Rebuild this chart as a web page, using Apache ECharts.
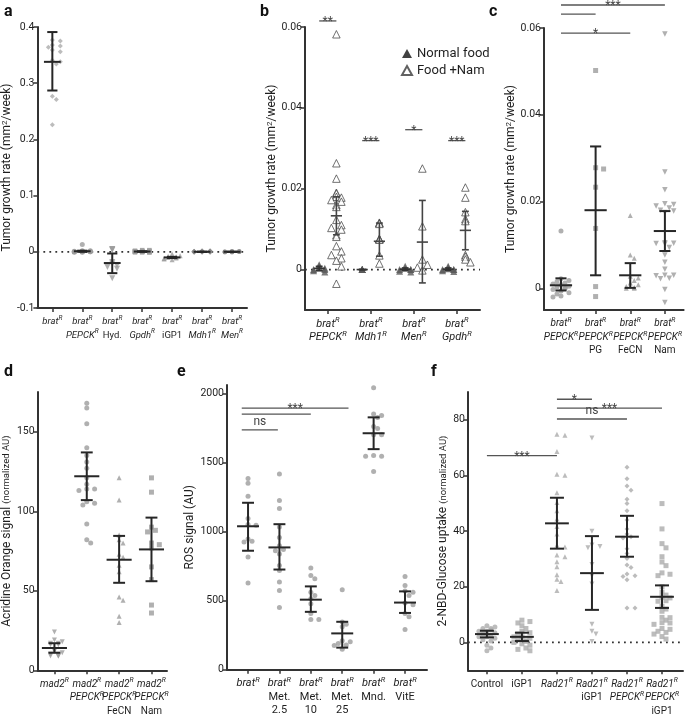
<!DOCTYPE html>
<html><head><meta charset="utf-8">
<script src="https://cdn.jsdelivr.net/npm/echarts@6/dist/echarts.min.js"></script>
<style>html,body{margin:0;padding:0;background:#fff}#c{width:685px;height:716px}</style>
</head><body><div id="c"></div>
<script>
// ---------------- DATA ----------------
// Panel a
const aLabels = ['{i|brat}{s|R}', '{i|brat}{s|R}\n{i|PEPCK}{s|R}', '{i|brat}{s|R}\n{n|Hyd.}', '{i|brat}{s|R}\n{i|Gpdh}{s|R}', '{i|brat}{s|R}\n{n|iGP1}', '{i|brat}{s|R}\n{i|Mdh1}{s|R}', '{i|brat}{s|R}\n{i|Men}{s|R}'];
const aTicks = [-0.1, 0, 0.1, 0.2, 0.3, 0.4];
const aBrat = [0.377, 0.375, 0.368, 0.366, 0.364, 0.359, 0.356, 0.341, 0.338, 0.334, 0.277, 0.271, 0.226];
const aPepck = [0.013, 0.002, 0.002, 0.001, 0.001, 0.001, 0, 0, 0, 0, 0, 0, -0.001, -0.001];
const aHyd = [0.005, 0.005, 0.003, -0.018, -0.021, -0.024, -0.027, -0.030, -0.047];
const aGpdh = [0.003, 0.003, 0.002, 0.002, 0.002, 0.001, 0.001, 0.001, 0.001, 0, 0, 0, 0, 0, -0.001, -0.001, -0.001, -0.001, 0, 0];
const aIgp1 = [-0.004, -0.007, -0.008, -0.009, -0.010, -0.010, -0.011, -0.012, -0.013, -0.014];
const aMdh1 = [0.002, 0.002, 0.001, 0.001, 0.001, 0, 0, 0, 0, 0, 0, -0.001, -0.001, -0.001, 0, 0, 0, 0];
const aMen = [0.001, 0.001, 0, 0, 0, 0, 0, 0, -0.001, -0.001];
const aMean = [0.338, 0.001, -0.020, 0.0005, -0.010, 0, 0];
const aLow = [0.287, 0, -0.038, 0, -0.011, 0, 0];
const aHigh = [0.391, 0.002, -0.003, 0.001, -0.009, 0, 0];

// Panel b
const bLabels = ['{i|brat}{s|R}\n{i|PEPCK}{s|R}', '{i|brat}{s|R}\n{i|Mdh1}{s|R}', '{i|brat}{s|R}\n{i|Men}{s|R}', '{i|brat}{s|R}\n{i|Gpdh}{s|R}'];
const bTicks = [0, 0.02, 0.04, 0.06];
const bNormPepck = [0.0012, 0.0008, 0.0005, 0.0003, 0, 0, -0.0003, -0.0006];
const bNormMdh1 = [0, 0, 0, 0, 0, 0];
const bNormMen = [0.0008, 0.0003, 0, 0, 0, -0.0004, -0.0006];
const bNormGpdh = [0.0008, 0.0005, 0.0002, 0, 0, 0, -0.0003, -0.0005];
const bNamPepck = [0.0582, 0.0263, 0.0225, 0.019, 0.0188, 0.018, 0.0178, 0.0172, 0.0168, 0.016, 0.0155, 0.0123, 0.011, 0.0103, 0.0099, 0.0085, 0.0081, 0.0058, 0.0045, 0.0036, 0.0028, 0.0022, 0.0008, -0.0035];
const bNamMdh1 = [0.0116, 0.0115, 0.0113, 0.0076, 0.0075, 0.0074, 0.0035, 0.0015];
const bNamMen = [0.025, 0.0107, 0.0025, 0.0012, 0.0005, -0.0002];
const bNamGpdh = [0.0203, 0.0178, 0.0142, 0.0125, 0.012, 0.0036, 0.0032, 0.0025, 0.0018];
const bNormMean = [0.0003, 0, 0.0001, 0.0001];
const bNormLow = [-0.0003, 0, -0.0002, -0.0002];
const bNormHigh = [0.0008, 0, 0.0004, 0.0004];
const bNamMean = [0.0133, 0.007, 0.0068, 0.0097];
const bNamLow = [0.0086, 0.0033, -0.0033, 0.0049];
const bNamHigh = [0.018, 0.0115, 0.0171, 0.0144];
const bSig = [[-0.2, 0.2, 0.0615, '**'], [0.8, 1.2, 0.0319, '***'], [1.8, 2.2, 0.0346, '*'], [2.8, 3.2, 0.0319, '***']];

// Panel c
const cLabels = ['{i|brat}{s|R}\n{i|PEPCK}{s|R}', '{i|brat}{s|R}\n{i|PEPCK}{s|R}\n{n|PG}', '{i|brat}{s|R}\n{i|PEPCK}{s|R}\n{n|FeCN}', '{i|brat}{s|R}\n{i|PEPCK}{s|R}\n{n|Nam}'];
const cTicks = [0, 0.02, 0.04, 0.06];
const cPepck = [0.0132, 0.0022, 0.0018, 0.0015, 0.0012, 0.001, 0.0008, 0.0005, 0.0003, 0, 0, -0.0003, -0.0006, -0.001, -0.0013, -0.0018, -0.002];
const cPG = [0.0502, 0.0278, 0.0275, 0.0233, 0.0138, 0.0004, -0.0019];
const cFeCN = [0.0168, 0.0077, 0.0069, 0.0028, 0.0024, 0.0018, 0.0012, 0.0008, 0.0004, 0.0002, 0, 0];
const cNam = [0.0586, 0.0268, 0.0227, 0.0195, 0.0193, 0.019, 0.0185, 0.018, 0.0178, 0.0175, 0.0105, 0.0104, 0.0103, 0.0102, 0.0094, 0.0077, 0.006, 0.0044, 0.003, 0.003, 0.0029, 0.0023, 0.0022, -0.0003, -0.0033];
const cMean = [0.0007, 0.018, 0.003, 0.0132];
const cLow = [-0.0005, 0.003, 0.0001, 0.0086];
const cHigh = [0.0023, 0.0327, 0.0058, 0.0178];
const cSig = [[0, 3, 0.0653, '***'], [0, 1, 0.0632, ''], [0, 2, 0.0588, '*']];

// Panel d
const dLabels = ['{i|mad2}{s|R}', '{i|mad2}{s|R}\n{i|PEPCK}{s|R}', '{i|mad2}{s|R}\n{i|PEPCK}{s|R}\n{n|FeCN}', '{i|mad2}{s|R}\n{i|PEPCK}{s|R}\n{n|Nam}'];
const dTicks = [0, 50, 100, 150];
const dMad2 = [24, 19, 18, 17, 17, 16, 16, 12, 11, 10, 10, 10, 9, 9, 9];
const dPepck = [168, 165, 155, 140, 135, 131, 127, 121, 117, 114, 114, 113, 106, 105, 104, 92, 82, 80];
const dFeCN = [121, 107, 85, 82, 80, 73, 71, 66, 62, 46, 44, 34, 30];
const dNam = [121, 112, 90, 88, 87, 80, 79, 77, 65, 57, 41, 36];
const dMean = [14, 122, 69.5, 76];
const dLow = [11, 107, 55, 56];
const dHigh = [17, 137, 84.5, 96];

// Panel e
const eLabels = ['{i|brat}{s|R}', '{i|brat}{s|R}\n{n|Met.}\n{n|2.5}', '{i|brat}{s|R}\n{n|Met.}\n{n|10}', '{i|brat}{s|R}\n{n|Met.}\n{n|25}', '{i|brat}{s|R}\n{n|Mnd.}', '{i|brat}{s|R}\n{n|VitE}'];
const eTicks = [0, 500, 1000, 1500, 2000];
const eBrat = [1383, 1350, 1256, 1095, 1050, 1045, 945, 930, 925, 815, 627];
const eMet25 = [1416, 1225, 1167, 1033, 957, 897, 870, 861, 837, 754, 718, 634, 574, 450];
const eMet10 = [737, 682, 658, 560, 538, 514, 478, 407, 364, 364];
const eMet250 = [579, 345, 330, 311, 210, 203, 190, 179, 175, 148];
const eMnd = [2040, 1850, 1840, 1825, 1760, 1745, 1700, 1700, 1550, 1545, 1545, 1435];
const eVitE = [675, 610, 569, 560, 538, 483, 470, 407, 383, 292];
const eMean = [1038, 885, 507, 263, 1711, 486];
const eLow = [861, 725, 419, 160, 1596, 411];
const eHigh = [1208, 1053, 603, 347, 1826, 567];
const eSig = [[-0.2, 0.95, 1736, 'ns'], [-0.2, 2.0, 1850, ''], [-0.2, 3.2, 1893, '***']];

// Panel f
const fLabels = ['{n|Control}', '{n|iGP1}', '{i|Rad21}{s|R}', '{i|Rad21}{s|R}\n{n|iGP1}', '{i|Rad21}{s|R}\n{i|PEPCK}{s|R}', '{i|Rad21}{s|R}\n{i|PEPCK}{s|R}\n{n|iGP1}'];
const fTicks = [0, 20, 40, 60, 80];
const fControl = [6, 5.5, 5, 5, 4.5, 4, 4, 3.5, 3, 3, 2.5, 2, 2, 1.5, 1, 0.5, -1, -2, -3];
const fIgp1 = [8, 7.5, 7, 6, 5, 4, 3.5, 3, 2, 2, 1.5, 1, 0.5, 0.5, 0, -0.5, -1, -2, -2.5, -3];
const fRad21 = [74.8, 74.5, 68.6, 60.4, 60.1, 53.8, 50.3, 47.3, 44.4, 41.7, 39, 34.9, 34.3, 31.4, 30.8, 29, 27.2, 24.3, 22.7, 21.9, 18.7];
const fRadIgp1 = [73.5, 40, 35, 34.5, 34, 28, 24, 21, 6.5, 4, 3, 0.3];
const fRadPepck = [63, 58.8, 56.2, 54.7, 51.5, 49.9, 47.3, 44, 40.8, 39, 38, 37.5, 33.7, 32, 30.2, 27.8, 26.9, 24.6, 24, 23.7, 22.5, 12.4, 12.4];
const fRadPepckIgp1 = [49.9, 40.8, 35.5, 34, 30.8, 28.9, 27.6, 25, 24.5, 24, 20, 18, 17, 16.2, 16, 15, 14.8, 13, 12, 11.2, 9, 8.9, 8, 7.1, 7, 6.5, 5, 4.7, 4, 3.6, 3, 2.1, 1.2];
const fMean = [3, 2, 42.8, 24.9, 38, 16.4];
const fLow = [1.8, 0.5, 33.7, 11.7, 30.8, 12.4];
const fHigh = [4.2, 3.5, 52, 38.2, 45.5, 20.5];
const fSig = [[0, 2, 67.1, '***'], [2, 3, 87.4, '*'], [2, 5, 84.2, '***'], [2, 4, 80.3, 'ns']];

// ---------------- RENDERING ----------------
const FONT = "Roboto, 'Liberation Sans', sans-serif";
const TXT = '#1e1e1e';
const GRAY = '#9c9c9c';
const DARK = '#262626';
function makeRich(fs) {
  return {
    i: {fontStyle: 'italic', fontSize: fs, lineHeight: 13.5, fontFamily: FONT, color: TXT},
    s: {fontStyle: 'italic', fontSize: fs * 0.68, lineHeight: 8, verticalAlign: 'top', fontFamily: FONT, color: TXT},
    n: {fontSize: fs, lineHeight: 13.5, fontFamily: FONT, color: TXT}
  };
}

const grids = [], xAxes = [], yAxes = [], series = [];

function swarm(values, center, bandPx, pxPerUnit, stepPx, sizePx, maxOffPx) {
  const placed = [], out = [];
  const order = values.map((v, i) => i).sort((a, b) => values[b] - values[a]);
  const cands = [0];
  for (let j = 1; j * stepPx <= maxOffPx + 0.01; j++) cands.push(j * stepPx, -j * stepPx);
  order.forEach(i => {
    const y = values[i] * pxPerUnit;
    let best = 0, bestCnt = 1e9;
    for (const c of cands) {
      let cnt = 0;
      for (const p of placed) { const dx = c - p[0], dy = y - p[1]; if (dx * dx + dy * dy < sizePx * sizePx) cnt++; }
      if (cnt === 0) { best = c; bestCnt = 0; break; }
      if (cnt < bestCnt) { bestCnt = cnt; best = c; }
    }
    placed.push([best, y]);
    out.push([center + best / bandPx, values[i]]);
  });
  return out;
}

function labelAxis(k, p, idxList, main) {
  const fs = p.labelSize || 11;
  return {
    type: 'value', gridIndex: k, min: p.xMin, max: p.xMax, position: 'bottom',
    axisLine: {show: main, onZero: false, lineStyle: {color: '#333', width: 2}},
    axisTick: {show: main, customValues: p.labels.map((l, i) => i), length: 4, lineStyle: {color: '#333', width: 1.5}},
    axisLabel: {customValues: idxList, formatter: v => p.labels[Math.round(v)], margin: 7,
      showMinLabel: true, showMaxLabel: true, hideOverlap: false,
      rich: makeRich(fs), fontFamily: FONT, fontSize: fs, color: TXT, align: 'center', verticalAlign: 'top'},
    splitLine: {show: false}
  };
}

function addPanel(p) {
  const k = grids.length;
  grids.push({left: p.grid[0], top: p.grid[1], width: p.grid[2], height: p.grid[3], containLabel: false});
  const bandPx = p.grid[2] / (p.xMax - p.xMin);
  const pxPerUnit = p.grid[3] / (p.yMax - p.yMin);
  const xi = xAxes.length;
  const idx = p.labels.map((l, i) => i);
  // even-index labels on the main axis, odd-index labels on a companion axis so no label is dropped
  xAxes.push(labelAxis(k, p, idx.filter(i => i % 2 === 0), true));
  xAxes.push(labelAxis(k, p, idx.filter(i => i % 2 === 1), false));
  yAxes.push({
    type: 'value', gridIndex: k, min: p.yMin, max: p.yMax,
    axisLine: {onZero: false, lineStyle: {color: '#333', width: 2}},
    axisTick: {customValues: p.yTicks, length: 4, lineStyle: {color: '#333', width: 1.5}},
    axisLabel: {customValues: p.yTicks, formatter: v => String(v), margin: 3, showMinLabel: true, showMaxLabel: true,
      fontFamily: FONT, fontSize: 10.5, color: TXT},
    splitLine: {show: false},
    name: p.yName, nameLocation: 'middle', nameGap: p.nameGap, nameRotate: 90,
    nameTextStyle: {fontFamily: FONT, fontSize: p.nameSize || 12, color: TXT, rich: {s: {fontSize: 8, verticalAlign: 'top', lineHeight: 8, fontFamily: FONT, color: TXT}, sm: {fontSize: 9.5, fontFamily: FONT, color: TXT}}}
  });
  const ax = {xAxisIndex: xi, yAxisIndex: k};
  if (p.zero) {
    series.push(Object.assign({
      type: 'custom', silent: true, z: 1, data: [[0, 0]],
      renderItem: (params, api) => {
        const cs = params.coordSys; const y = api.coord([0, 0])[1];
        return {type: 'line', shape: {x1: cs.x, y1: y, x2: cs.x + cs.width, y2: y}, style: {stroke: '#333', lineWidth: 1.8, lineDash: [1.8, 4.2]}};
      }
    }, ax));
  }
  p.groups.forEach(g => {
    series.push(Object.assign({
      type: 'scatter', name: g.name, z: 3, silent: true,
      symbol: g.symbol, symbolSize: g.size, symbolRotate: g.rotate || 0,
      itemStyle: g.style || {color: GRAY},
      data: swarm(g.values, g.x, bandPx, pxPerUnit, g.step || g.size * 0.8, g.size * 0.9, g.maxOff || bandPx * 0.3)
    }, ax));
  });
  p.bars.forEach(b => {
    series.push(Object.assign({
      type: 'custom', z: 5, silent: true,
      encode: {x: 0, y: 1},
      data: b.x.map((x, i) => [x, b.mean[i], b.lo[i], b.hi[i]]),
      renderItem: (params, api) => {
        const x = api.value(0);
        const m = api.coord([x, api.value(1)]), lo = api.coord([x, api.value(2)]), hi = api.coord([x, api.value(3)]);
        const mh = bandPx * b.meanHalf, ch = bandPx * b.capHalf;
        const st = {stroke: b.color || DARK, lineWidth: b.width || 2};
        return {type: 'group', children: [
          {type: 'line', shape: {x1: m[0], y1: lo[1], x2: m[0], y2: hi[1]}, style: st},
          {type: 'line', shape: {x1: m[0] - ch, y1: lo[1], x2: m[0] + ch, y2: lo[1]}, style: st},
          {type: 'line', shape: {x1: m[0] - ch, y1: hi[1], x2: m[0] + ch, y2: hi[1]}, style: st},
          {type: 'line', shape: {x1: m[0] - mh, y1: m[1], x2: m[0] + mh, y2: m[1]}, style: st}
        ]};
      }
    }, ax));
  });
  if (p.sig) {
    series.push(Object.assign({
      type: 'custom', z: 6, silent: true, clip: false,
      encode: {x: 0, y: 2},
      data: p.sig.map(s => [s[0], s[1], s[2]]),
      renderItem: (params, api) => {
        const s = p.sig[params.dataIndex];
        const a = api.coord([api.value(0), api.value(2)]), b = api.coord([api.value(1), api.value(2)]);
        const ch = [{type: 'line', shape: {x1: a[0], y1: a[1], x2: b[0], y2: b[1]}, style: {stroke: '#555', lineWidth: 1.3}}];
        if (s[3]) {
          const star = s[3] !== 'ns';
          ch.push({type: 'text', style: {text: s[3], x: (a[0] + b[0]) / 2, y: star ? a[1] + 1 : a[1] - 1.5, align: 'center', verticalAlign: star ? 'middle' : 'bottom', font: '12px ' + FONT, fill: '#444'}});
        }
        return {type: 'group', children: ch};
      }
    }, ax));
  }
}

const sym = (values, x, symbol, size, extra) => Object.assign({values, x, symbol, size}, extra || {});
const DOWN = {rotate: 180};

// Panel a
addPanel({
  grid: [37, 27, 210, 281], xMin: -0.5, xMax: 6.5, yMin: -0.1, yMax: 0.4, yTicks: aTicks, labels: aLabels, labelSize: 9.5,
  yName: 'Tumor growth rate (mm{s|2}/week)', nameGap: 22, zero: true,
  groups: [
    sym(aBrat, 0, 'diamond', 5, {style: {color: '#ababab'}}),
    sym(aPepck, 1, 'circle', 5),
    sym(aHyd, 2, 'triangle', 6, DOWN),
    sym(aGpdh, 3, 'rect', 4.5),
    sym(aIgp1, 4, 'triangle', 5),
    sym(aMdh1, 5, 'diamond', 5, {style: {color: '#8a8a8a'}}),
    sym(aMen, 6, 'circle', 4.5, {style: {color: '#8a8a8a'}})
  ],
  bars: [{x: [0, 1, 2, 3, 4, 5, 6], mean: aMean, lo: aLow, hi: aHigh, meanHalf: 0.28, capHalf: 0.17}]
});

// Panel b
const NORM = {style: {color: '#5a5a5a'}, maxOff: 6, name: 'Normal food'};
const NAM = {style: {color: '#fff', borderColor: '#3a3a3a', borderWidth: 0.9}, maxOff: 5, step: 5, name: 'Food +Nam'};
addPanel({
  grid: [305, 27, 175, 283], xMin: -0.53, xMax: 3.54, yMin: -0.01, yMax: 0.06, yTicks: bTicks, labels: bLabels, labelSize: 11,
  yName: 'Tumor growth rate (mm{s|2}/week)', nameGap: 27, zero: true,
  groups: [
    sym(bNormPepck, -0.2, 'triangle', 7, NORM), sym(bNormMdh1, 0.8, 'triangle', 7, NORM),
    sym(bNormMen, 1.8, 'triangle', 7, NORM), sym(bNormGpdh, 2.8, 'triangle', 7, NORM),
    sym(bNamPepck, 0.2, 'triangle', 7.5, NAM), sym(bNamMdh1, 1.2, 'triangle', 7.5, NAM),
    sym(bNamMen, 2.2, 'triangle', 7.5, NAM), sym(bNamGpdh, 3.2, 'triangle', 7.5, NAM)
  ],
  bars: [
    {x: [-0.2, 0.8, 1.8, 2.8], mean: bNormMean, lo: bNormLow, hi: bNormHigh, meanHalf: 0.13, capHalf: 0.08, color: '#333', width: 1.6},
    {x: [0.2, 1.2, 2.2, 3.2], mean: bNamMean, lo: bNamLow, hi: bNamHigh, meanHalf: 0.13, capHalf: 0.08, color: '#444', width: 1.6}
  ],
  sig: bSig
});

// Panel c
addPanel({
  grid: [544, 28, 140, 282], xMin: -0.49, xMax: 3.54, yMin: -0.005, yMax: 0.06, yTicks: cTicks, labels: cLabels, labelSize: 10,
  yName: 'Tumor growth rate (mm{s|2}/week)', nameGap: 26,
  groups: [
    sym(cPepck, 0, 'circle', 5), sym(cPG, 1, 'rect', 5),
    sym(cFeCN, 2, 'triangle', 5), sym(cNam, 3, 'triangle', 5.5, DOWN)
  ],
  bars: [{x: [0, 1, 2, 3], mean: cMean, lo: cLow, hi: cHigh, meanHalf: 0.32, capHalf: 0.16}],
  sig: cSig
});

// Panel d
addPanel({
  grid: [35, 392, 132, 281], xMin: -0.52, xMax: 3.48, yMin: 0, yMax: 175, yTicks: dTicks, labels: dLabels, labelSize: 10,
  yName: 'Acridine Orange signal {sm|(normalized AU)}', nameGap: 21,
  groups: [
    sym(dMad2, 0, 'triangle', 5, DOWN), sym(dPepck, 1, 'circle', 5),
    sym(dFeCN, 2, 'triangle', 5), sym(dNam, 3, 'rect', 5)
  ],
  bars: [{x: [0, 1, 2, 3], mean: dMean, lo: dLow, hi: dHigh, meanHalf: 0.38, capHalf: 0.18}]
});

// Panel e
addPanel({
  grid: [227, 385, 200, 288], xMin: -0.67, xMax: 5.7, yMin: 0, yMax: 2060, yTicks: eTicks, labels: eLabels, labelSize: 11,
  yName: 'ROS signal (AU)', nameGap: 29, nameSize: 12,
  groups: [
    sym(eBrat, 0, 'circle', 5), sym(eMet25, 1, 'circle', 5), sym(eMet10, 2, 'circle', 5),
    sym(eMet250, 3, 'circle', 5), sym(eMnd, 4, 'circle', 5), sym(eVitE, 5, 'circle', 5)
  ],
  bars: [{x: [0, 1, 2, 3, 4, 5], mean: eMean, lo: eLow, hi: eHigh, meanHalf: 0.35, capHalf: 0.19}],
  sig: eSig
});

// Panel f
addPanel({
  grid: [468, 392, 215, 283], xMin: -0.54, xMax: 5.6, yMin: -10, yMax: 90, yTicks: fTicks, labels: fLabels, labelSize: 10,
  yName: '2-NBD-Glucose uptake {sm|(normalized AU)}', nameGap: 17, nameSize: 12,
  zero: true,
  groups: [
    sym(fControl, 0, 'circle', 5, {style: {color: '#ababab'}}), sym(fIgp1, 1, 'rect', 5, {style: {color: '#ababab'}}),
    sym(fRad21, 2, 'triangle', 5, {style: {color: '#ababab'}}), sym(fRadIgp1, 3, 'triangle', 5, Object.assign({style: {color: '#ababab'}}, DOWN)),
    sym(fRadPepck, 4, 'diamond', 5, {style: {color: '#ababab'}}), sym(fRadPepckIgp1, 5, 'rect', 5, {style: {color: '#ababab'}})
  ],
  bars: [{x: [0, 1, 2, 3, 4, 5], mean: fMean, lo: fLow, hi: fHigh, meanHalf: 0.34, capHalf: 0.2}],
  sig: fSig
});

const letters = [['a', 4, 4], ['b', 260, 4], ['c', 489, 4], ['d', 4, 364], ['e', 177, 364], ['f', 431, 364]];

const chart = echarts.init(document.getElementById('c'), null, {renderer: 'canvas'});
chart.setOption({
  animation: false,
  backgroundColor: '#fff',
  grid: grids, xAxis: xAxes, yAxis: yAxes, series: series,
  legend: {
    left: 396, top: 42, orient: 'vertical', itemGap: 4, itemWidth: 10, itemHeight: 9,
    selectedMode: false,
    textStyle: {fontSize: 13, fontFamily: FONT, color: TXT},
    data: [{name: 'Normal food', icon: 'triangle', itemStyle: {color: '#111'}}, {name: 'Food +Nam', icon: 'triangle'}]
  },
  graphic: letters.map(l => ({type: 'text', left: l[1], top: l[2], style: {text: l[0], font: 'bold 16px ' + FONT, fill: '#111'}}))
});
</script>
</body></html>
